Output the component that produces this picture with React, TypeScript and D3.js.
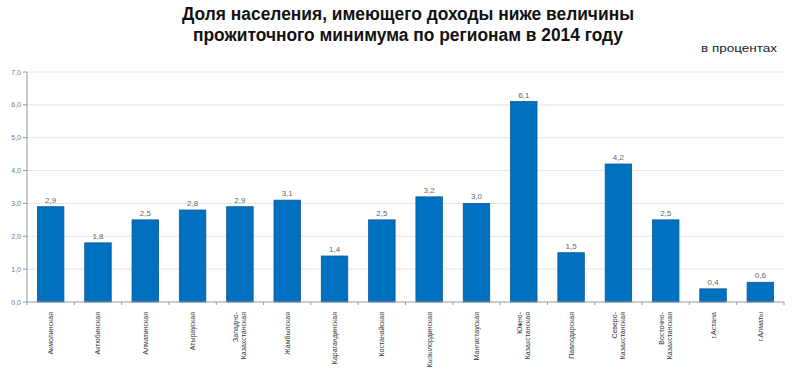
import React from "react";
import * as d3 from "d3";

const categories: string[][] = [
  ["Акмолинская"],
  ["Актюбинская"],
  ["Алматинская"],
  ["Атырауская"],
  ["Западно-", "Казахстанская"],
  ["Жамбылская"],
  ["Карагандинская"],
  ["Костанайская"],
  ["Кызылординская"],
  ["Мангистауская"],
  ["Южно-", "Казахстанская"],
  ["Павлодарская"],
  ["Северо-", "Казахстанская"],
  ["Восточно-", "Казахстанская"],
  ["г.Астана"],
  ["г.Алматы"],
];
const values: number[] = [2.9, 1.8, 2.5, 2.8, 2.9, 3.1, 1.4, 2.5, 3.2, 3.0, 6.1, 1.5, 4.2, 2.5, 0.4, 0.6];
const yTicks: number[] = [0, 1, 2, 3, 4, 5, 6, 7];
const titleLines: string[] = [
  "Доля населения, имеющего доходы ниже величины",
  "прожиточного минимума по регионам в 2014 году",
];
const unitLabel = "в процентах";

const W = 800;
const H = 380;
const left = 27;
const right = 784;
const top = 72;
const bottom = 302;

export default function App() {
  const x = d3
    .scaleBand<number>()
    .domain(d3.range(values.length))
    .range([left, right])
    .paddingInner(0.44)
    .paddingOuter(0.22);
  const y = d3.scaleLinear().domain([0, 7]).range([bottom, top]);
  const step = x.step();
  const fmt = (v: number) => v.toFixed(1).replace(".", ",");
  const sans = "'Liberation Sans', Arial, sans-serif";
  const titleWidths = [452, 430];

  return (
    <svg width={W} height={H} style={{ position: "absolute", left: 0, top: 0, background: "#fff" }}>
      <rect x={0} y={0} width={W} height={H} fill="#fff" />
      {titleLines.map((t, i) => (
        <text
          key={i}
          x={408}
          y={20 + i * 21}
          textAnchor="middle"
          fontFamily={sans}
          fontWeight="bold"
          fontSize={18}
          textLength={titleWidths[i]}
          lengthAdjust="spacingAndGlyphs"
          fill="#111"
        >
          {t}
        </text>
      ))}
      <text
        x={777}
        y={52}
        textAnchor="end"
        fontFamily={sans}
        fontSize={11}
        textLength={76}
        lengthAdjust="spacingAndGlyphs"
        fill="#222"
      >
        {unitLabel}
      </text>
      {yTicks.map((t) => (
        <g key={t}>
          {t > 0 && (
            <line x1={left} x2={right} y1={y(t)} y2={y(t)} stroke="#e6e6e6" strokeWidth={1} />
          )}
          <line x1={left - 4} x2={left} y1={y(t)} y2={y(t)} stroke="#999" />
          <text
            x={left - 6}
            y={y(t) + 2.5}
            textAnchor="end"
            fontFamily={sans}
            fontSize={7}
            fill="#777"
          >
            {fmt(t)}
          </text>
        </g>
      ))}
      <line x1={left} x2={left} y1={top} y2={bottom} stroke="#999" />
      {values.map((v, i) => (
        <g key={i}>
          <rect
            x={x(i)!}
            y={y(v)}
            width={x.bandwidth()}
            height={bottom - y(v)}
            fill="#0070C0"
            stroke="#0a5a9c"
            strokeWidth={0.8}
          />
          <text
            x={x(i)! + x.bandwidth() / 2}
            y={y(v) - 4}
            textAnchor="middle"
            fontFamily={sans}
            fontSize={8}
            fill="#666"
          >
            {fmt(v)}
          </text>
        </g>
      ))}
      <line x1={left} x2={right} y1={bottom} y2={bottom} stroke="#999" />
      {d3.range(values.length + 1).map((i) => (
        <line
          key={i}
          x1={left + i * step}
          x2={left + i * step}
          y1={bottom}
          y2={bottom + 3}
          stroke="#999"
        />
      ))}
      {categories.map((lines, i) => {
        const cx = x(i)! + x.bandwidth() / 2;
        const n = lines.length;
        return (
          <text
            key={i}
            transform={`translate(${cx},${bottom + 10}) rotate(-90)`}
            textAnchor="end"
            fontFamily={sans}
            fontSize={7}
            fill="#333"
          >
            {lines.map((l, j) => (
              <tspan key={j} x={0} y={(j - (n - 1) / 2) * 8 + 2.5}>
                {l}
              </tspan>
            ))}
          </text>
        );
      })}
    </svg>
  );
}
